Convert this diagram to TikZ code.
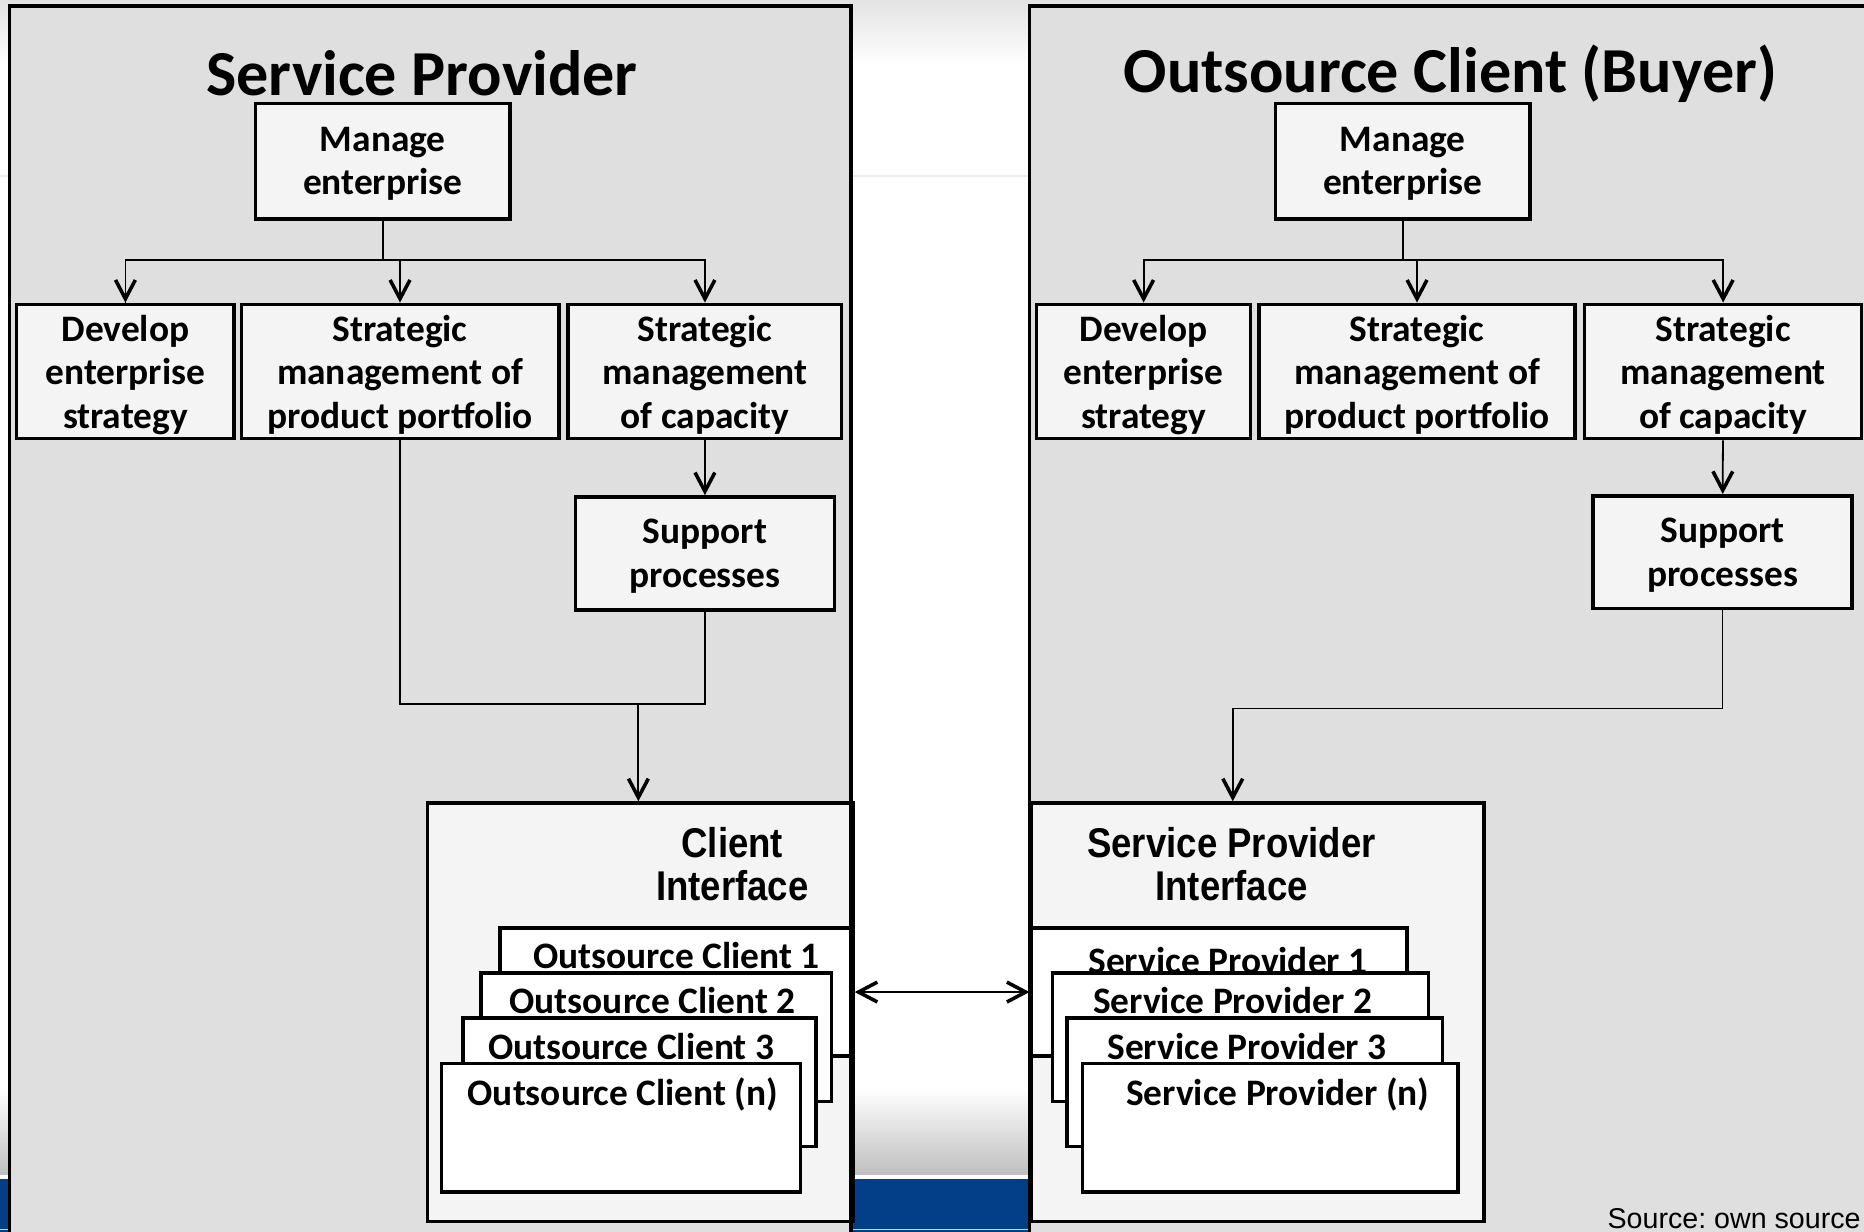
\documentclass[tikz,border=0pt]{standalone}
\usepackage{fontspec}
\setmainfont{Carlito}
\newfontfamily\narrowsans{Liberation Sans}[FakeStretch=0.88]
\newfontfamily\plainsans{Liberation Sans}
\usetikzlibrary{arrows.meta}
\newlength\pxl
\setlength\pxl{0.02cm}
\definecolor{panelgrey}{HTML}{DFDFDF}
\definecolor{boxgrey}{HTML}{F4F4F4}
\definecolor{slideblue}{HTML}{023F88}
\tikzset{
    panel/.style={fill=panelgrey},
    rim/.style={draw=black, line width=1.7pt},
    process/.style={draw=black, fill=boxgrey, line width=1.7pt, align=center, inner sep=0pt,
        text depth=0pt, font=\bfseries\fontsize{17.9}{20.8}\selectfont},
    interface/.style={draw=black, fill=boxgrey, line width=1.7pt, inner sep=0pt, anchor=north west},
    card/.style={draw=black, fill=white, line width=1.7pt, inner sep=0pt, anchor=north west,
        minimum height=108\pxl},
    cardtext/.style={font=\bfseries\fontsize{17.9}{20.8}\selectfont, inner sep=0pt},
    ifacetext/.style={font=\narrowsans\bfseries\fontsize{19.9}{20.5}\selectfont, align=center, inner sep=0pt},
    title/.style={font=\bfseries\fontsize{30.7}{36}\selectfont, inner sep=0pt},
    wire/.style={draw=black, line width=0.85pt},
    flow/.style={draw=black, line width=0.85pt, -{Straight Barb[length=9pt,width=9.5pt,line width=1.7pt]}},
    twoway/.style={draw=black, line width=0.85pt,
        {Straight Barb[length=9pt,width=9.5pt,line width=1.7pt]}-{Straight Barb[length=9pt,width=9.5pt,line width=1.7pt]}}
}

\begin{document}
\begin{tikzpicture}[x=0.02cm, y=-0.02cm]
\clip (0,0) rectangle (1568,1036);
% slide background
\fill[white] (0,0) rectangle (1568,1036);
\shade[top color=gray!22, bottom color=white] (0,0) rectangle (1568,55);
\draw[gray!15, line width=1pt] (0,148) -- (1568,148);
\shade[top color=white, bottom color=gray!50] (0,915) rectangle (1568,988);
\fill[slideblue] (0,992) rectangle (1568,1036);
\draw[gray!30, line width=0.6pt] (0,1034) -- (1568,1034);

\path[panel] (8,5) rectangle (716,1045);
\path[panel] (866,5) rectangle (1580,1045);

% service provider side
\node[title] (ltitle) at (355,62) {Service Provider};
\node[process, minimum width=214\pxl, minimum height=97\pxl] (lme) at (322,135.5) {Manage\\enterprise};
\node[process, minimum width=183\pxl, minimum height=113\pxl] (ldev) at (105.5,312.5) {Develop\\enterprise\\strategy};
\node[process, minimum width=267\pxl, minimum height=113\pxl] (lpor) at (336.5,312.5) {Strategic\\management of\\product portfolio};
\node[process, minimum width=230\pxl, minimum height=113\pxl] (lcap) at (593,312.5) {Strategic\\management\\of capacity};
\node[process, minimum width=218\pxl, minimum height=95\pxl] (lsup) at (593,465.5) {Support\\processes};
\node[interface, minimum width=358\pxl, minimum height=352\pxl] (lint) at (358,674) {};
\node[ifacetext] at (616,727) {Client\\Interface};
\node[card, minimum width=297\pxl] (lc1) at (419,779) {};
\node[cardtext] at (569,804) {Outsource Client 1};
\node[card, minimum width=295\pxl] (lc2) at (403,817) {};
\node[cardtext] at (549,842) {Outsource Client 2};
\node[card, minimum width=297\pxl] (lc3) at (388,855) {};
\node[cardtext] at (531,880) {Outsource Client 3};
\node[card, minimum width=302\pxl] (lcn) at (370,893) {};
\node[cardtext] at (524,921) {Outsource Client (n)};

\coordinate (lfork) at (322,219);
\coordinate (lmerge) at (537,592);
\draw[wire] (lme) -- (lfork);
\draw[wire] (lfork) -| (ldev.north);
\draw[flow] (lfork) -| (ldev);
\draw[flow] (lfork) -| (lpor);
\draw[flow] (lfork) -| (lcap);
\draw[flow] (lcap) -- (lsup);
\draw[wire] (lpor.south) |- (lmerge);
\draw[wire] (lsup.south) |- (lmerge);
\draw[flow] (lmerge) -- (lmerge |- lint.north);

% outsource client side
\node[title] (rtitle) at (1220,62) {Outsource Client (Buyer)};
\node[process, minimum width=214\pxl, minimum height=97\pxl] (rme) at (1180,135.5) {Manage\\enterprise};
\node[process, minimum width=180\pxl, minimum height=113\pxl] (rdev) at (962,312.5) {Develop\\enterprise\\strategy};
\node[process, minimum width=266\pxl, minimum height=113\pxl] (rpor) at (1192,312.5) {Strategic\\management of\\product portfolio};
\node[process, minimum width=233\pxl, minimum height=113\pxl] (rcap) at (1449.5,312.5) {Strategic\\management\\of capacity};
\node[process, minimum width=218\pxl, minimum height=95\pxl] (rsup) at (1449,464.5) {Support\\processes};
\node[interface, minimum width=381\pxl, minimum height=352\pxl] (rint) at (866,674) {};
\node[ifacetext] at (1036,727) {Service Provider\\Interface};
\node[card, minimum width=316\pxl] (rc1) at (866,779) {};
\node[cardtext] at (1033,808) {Service Provider 1};
\node[card, minimum width=316\pxl] (rc2) at (884,817) {};
\node[cardtext] at (1037,842) {Service Provider 2};
\node[card, minimum width=316\pxl] (rc3) at (896,855) {};
\node[cardtext] at (1049,880) {Service Provider 3};
\node[card, minimum width=316\pxl] (rcn) at (909,893) {};
\node[cardtext] at (1075,921) {Service Provider (n)};

\coordinate (rfork) at (1180,219);
\coordinate (rbend) at (1037,596);
\draw[wire] (rme) -- (rfork);
\draw[flow] (rfork) -| (rdev);
\draw[flow] (rfork) -| (rpor);
\draw[flow] (rfork) -| (rcap);
\draw[flow] (rcap) -- (rsup);
\draw[flow] (rsup.south) |- (rbend) -- (rbend |- rint.north);

% panel rims on top
\draw[rim] (8,1045) -- (8,5) -- (716,5) -- (716,1045);
\draw[rim] (866,1045) -- (866,5) -- (1580,5);

\draw[twoway] (lc1.east) -- (rc1.west);

\node[font=\plainsans\fontsize{13.7}{15}\selectfont, anchor=base west, inner sep=0pt] (src) at (1352,1033) {Source:\ own source};
\end{tikzpicture}
\end{document}
